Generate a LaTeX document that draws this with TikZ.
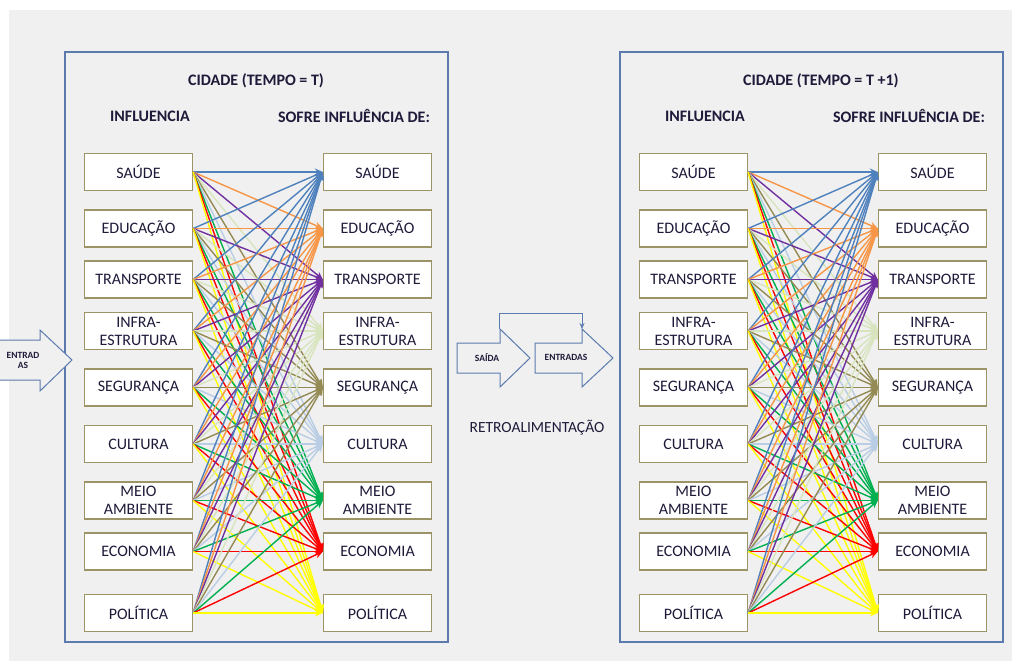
\documentclass[tikz,border=0pt]{standalone}
\usepackage{fontspec}
\setmainfont{Carlito}
\usetikzlibrary{arrows.meta}
\definecolor{bg}{HTML}{F0F0F0}
\definecolor{framec}{HTML}{5B7BAE}
\definecolor{boxc}{HTML}{9C9466}
\definecolor{txt}{HTML}{1F1A3A}
\definecolor{c1}{HTML}{4F81BD}
\definecolor{c2}{HTML}{F79646}
\definecolor{c3}{HTML}{7030A0}
\definecolor{c4}{HTML}{D7E4BD}
\definecolor{c5}{HTML}{948A54}
\definecolor{c6}{HTML}{B9CDE5}
\definecolor{c7}{HTML}{00B050}
\definecolor{c8}{HTML}{FF0000}
\definecolor{c9}{HTML}{FFFF00}
\newcommand\mycity[3]{%
  \begin{scope}[xshift=#2]
    \draw[frame] (65,52) rectangle (448,642);
    \node[head,anchor=west] (#1title) at (188,81) {#3};
    \node[head] (#1hin) at (150,116) {INFLUENCIA};
    \node[head] (#1hout) at (354,116) {SOFRE INFLUÊNCIA DE:};
    \foreach \t [count=\i] in {SAÚDE,EDUCAÇÃO,TRANSPORTE,{INFRA-\\ESTRUTURA},SEGURANÇA,CULTURA,{MEIO\\AMBIENTE},ECONOMIA,POLÍTICA}{
      \pgfmathsetmacro\yy{{172,228.5,279.5,331,387.5,444,500.5,551.5,613}[\i-1]}
      \node[item] (#1L\i) at (138.5,\yy) {\t};
      \node[item] (#1R\i) at (377.5,\yy) {\t};
    }
    \foreach \i in {1,...,9}{
      \foreach \j in {1,...,9}{
        \draw[link,c\j] (#1L\i.east) -- (#1R\j.west);
      }
    }
  \end{scope}
}
\begin{document}
\begin{tikzpicture}[x=1pt,y=-1pt,
  frame/.style={draw=framec,line width=1.2pt},
  item/.style={draw=boxc,fill=white,line width=1.3pt,minimum width=108pt,minimum height=37pt,
    align=center,text=txt,font=\fontsize{16}{18}\selectfont,inner sep=0pt},
  head/.style={text=txt,font=\bfseries\fontsize{16}{18}\selectfont,inner sep=0pt},
  link/.style={line width=1.4pt,-{Stealth[length=8pt,width=7pt]}},
  barrow/.style={draw=framec,line width=1pt,fill=bg,line join=miter},
  small/.style={text=txt,font=\bfseries\fontsize{9.5}{10}\selectfont,inner sep=0pt,align=center}]
\useasboundingbox (0,0) rectangle (1012,661);
\fill[bg] (0,0) rectangle (1012,661);
\fill[white] (0,0) rectangle (1012,10);
\fill[white] (0,0) rectangle (9,661);

\mycity{a}{0pt}{CIDADE (TEMPO = T)}
\mycity{b}{555pt}{CIDADE (TEMPO = T +1)}

% input arrow on the left
\draw[barrow] (0,340) -- (40,340) -- (40,330) -- (72,360) -- (40,391) -- (40,380) -- (0,380);
\node[small] (inlab) at (23,360) {ENTRAD\\AS};

% feedback arrows
\draw[barrow] (457,343) -- (500,343) -- (500,329) -- (530,358) -- (500,387) -- (500,373) -- (457,373) -- cycle;
\draw[barrow] (535,343) -- (582,343) -- (582,329) -- (613,358) -- (582,387) -- (582,373) -- (535,373) -- cycle;
\node[small] (said) at (487,358) {SAÍDA};
\node[small] (entr) at (566,357) {ENTRADAS};
\coordinate (fbA) at (499.5,329);
\coordinate (fbB) at (582,329);
\draw[draw=framec,line width=1pt,-{Stealth[length=6pt,width=5pt]}] (fbA) -- ++(0,-16) -| (fbB);
\node[text=txt,font=\fontsize{15.5}{17}\selectfont,inner sep=0pt] (retro) at (537,428) {RETROALIMENTAÇÃO};
\end{tikzpicture}
\end{document}
